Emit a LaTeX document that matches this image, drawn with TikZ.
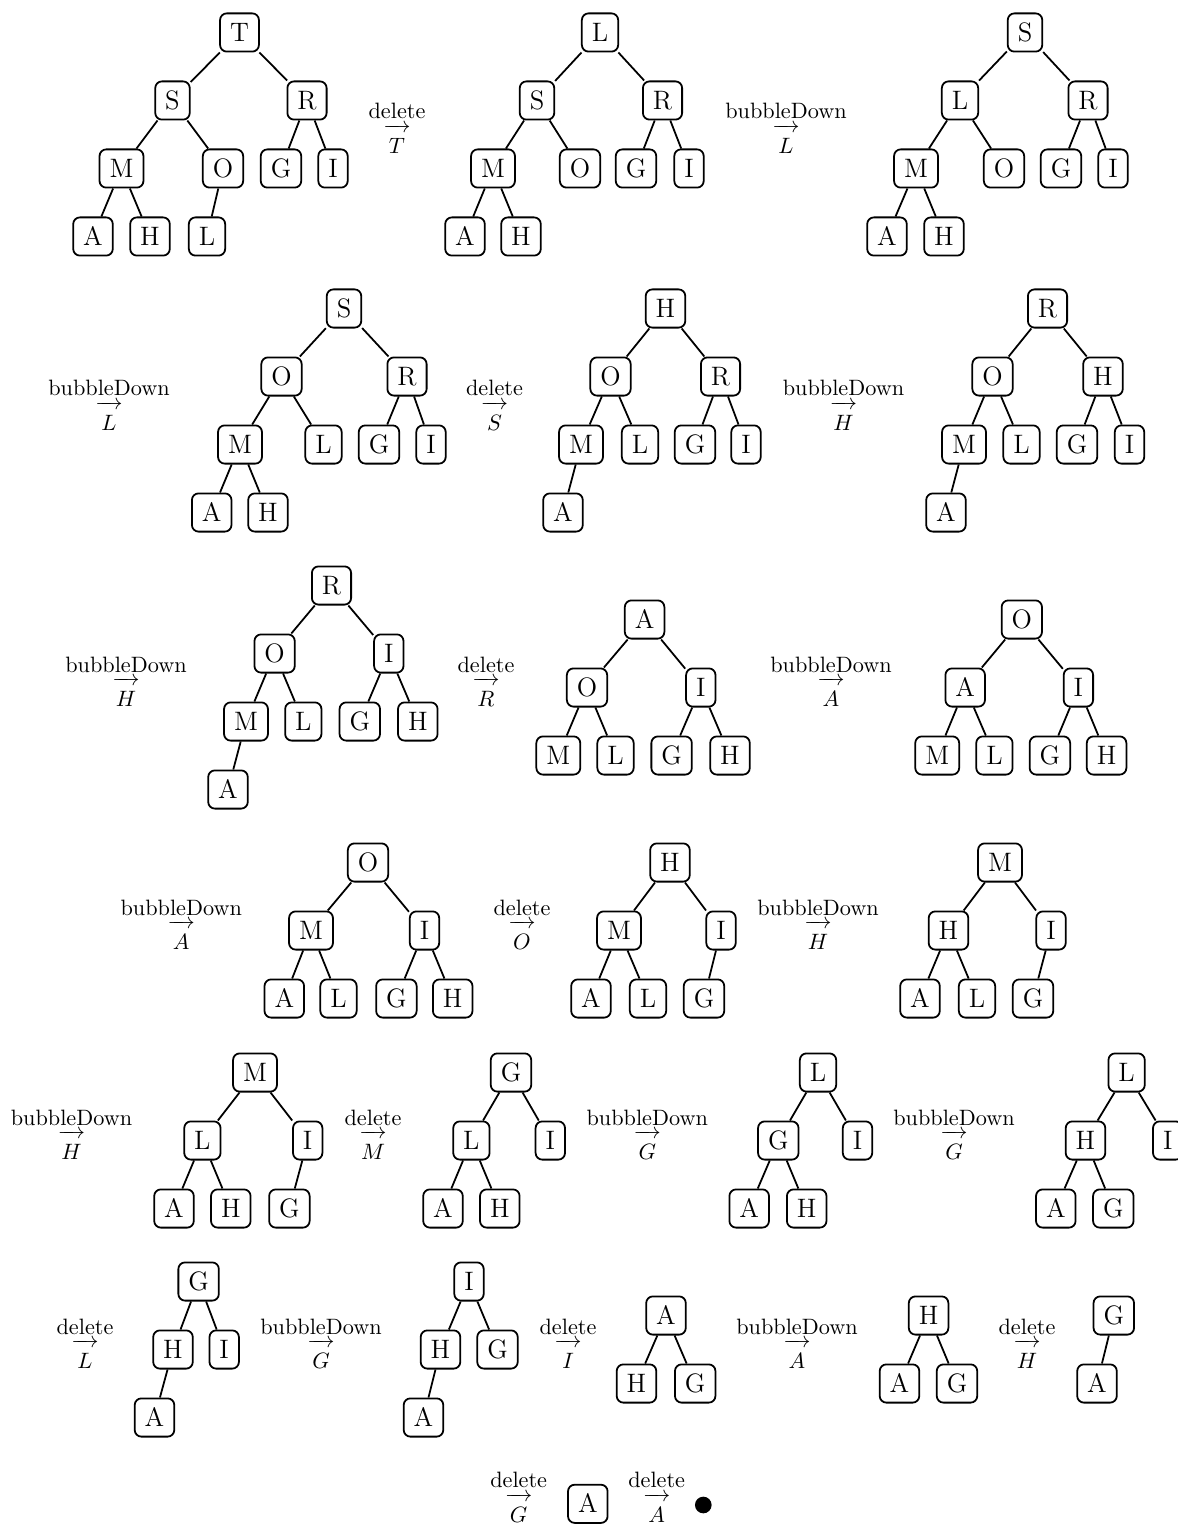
\documentclass[tikz,border=0pt]{standalone}
\newcommand{\oparrow}{$\relbar\mkern-10mu\rightarrow$}
\newcommand{\oplab}[5]{%
  \node[optext] (#1t) at (#2,#3-8) {#4};
  \node[optext] (#1a) at (#2,#3+5.56) {\oparrow};
  \node[optext] (#1l) at (#2,#3+26.5) {$#5$};}
\begin{document}
\begin{tikzpicture}[x=0.45pt,y=-0.45pt,
  nd/.style={draw, line width=0.8pt, rounded corners=3pt, inner sep=4.5pt, font=\large, text height=8.2pt, text depth=0pt},
  edge/.style={line width=0.8pt},
  optext/.style={anchor=base, inner sep=0pt}]
\useasboundingbox (0,0) rectangle (1177,1525);

% ---------------- Row 1 ----------------
\node[nd] (t1T) at (239.5,32.5) {T};
\node[nd] (t1S) at (172.5,100.5) {S};
\node[nd] (t1R) at (307,100.5) {R};
\node[nd] (t1M) at (121.5,168.5) {M};
\node[nd] (t1O) at (223,168.5) {O};
\node[nd] (t1G) at (281,168.5) {G};
\node[nd] (t1I) at (333,168.5) {I};
\node[nd] (t1A) at (93,236.5) {A};
\node[nd] (t1H) at (150,236.5) {H};
\node[nd] (t1L) at (207,236.5) {L};
\draw[edge] (t1T)--(t1S) (t1T)--(t1R) (t1S)--(t1M) (t1S)--(t1O) (t1R)--(t1G) (t1R)--(t1I) (t1M)--(t1A) (t1M)--(t1H) (t1O)--(t1L);

\oplab{o1}{397}{127}{delete}{T}

\node[nd] (t2L) at (600,32.5) {L};
\node[nd] (t2S) at (537,100.5) {S};
\node[nd] (t2R) at (662.5,100.5) {R};
\node[nd] (t2M) at (493,168.5) {M};
\node[nd] (t2O) at (580,168.5) {O};
\node[nd] (t2G) at (636,168.5) {G};
\node[nd] (t2I) at (689,168.5) {I};
\node[nd] (t2A) at (465,236.5) {A};
\node[nd] (t2H) at (521,236.5) {H};
\draw[edge] (t2L)--(t2S) (t2L)--(t2R) (t2S)--(t2M) (t2S)--(t2O) (t2R)--(t2G) (t2R)--(t2I) (t2M)--(t2A) (t2M)--(t2H);

\oplab{o2}{786}{127}{bubbleDown}{L}

\node[nd] (t3S) at (1025,32.5) {S};
\node[nd] (t3L) at (960,100.5) {L};
\node[nd] (t3R) at (1088,100.5) {R};
\node[nd] (t3M) at (916,168.5) {M};
\node[nd] (t3O) at (1004,168.5) {O};
\node[nd] (t3G) at (1061,168.5) {G};
\node[nd] (t3I) at (1113,168.5) {I};
\node[nd] (t3A) at (887,236.5) {A};
\node[nd] (t3H) at (944,236.5) {H};
\draw[edge] (t3S)--(t3L) (t3S)--(t3R) (t3L)--(t3M) (t3L)--(t3O) (t3R)--(t3G) (t3R)--(t3I) (t3M)--(t3A) (t3M)--(t3H);

% ---------------- Row 2 ----------------
\oplab{o3}{109}{403.5}{bubbleDown}{L}

\node[nd] (t4S) at (344,308.5) {S};
\node[nd] (t4O) at (281.5,376.5) {O};
\node[nd] (t4R) at (407,376.5) {R};
\node[nd] (t4M) at (240,444.5) {M};
\node[nd] (t4L) at (323.5,444.5) {L};
\node[nd] (t4G) at (379,444.5) {G};
\node[nd] (t4I) at (431,444.5) {I};
\node[nd] (t4A) at (211.7,512.5) {A};
\node[nd] (t4H) at (268,512.5) {H};
\draw[edge] (t4S)--(t4O) (t4S)--(t4R) (t4O)--(t4M) (t4O)--(t4L) (t4R)--(t4G) (t4R)--(t4I) (t4M)--(t4A) (t4M)--(t4H);

\oplab{o4}{494.5}{403.5}{delete}{S}

\node[nd] (t5H) at (665.5,308.5) {H};
\node[nd] (t5O) at (610.5,376.5) {O};
\node[nd] (t5R) at (720.5,376.5) {R};
\node[nd] (t5M) at (581,444.5) {M};
\node[nd] (t5L) at (640,444.5) {L};
\node[nd] (t5G) at (695,444.5) {G};
\node[nd] (t5I) at (746,444.5) {I};
\node[nd] (t5A) at (563,512.5) {A};
\draw[edge] (t5H)--(t5O) (t5H)--(t5R) (t5O)--(t5M) (t5O)--(t5L) (t5R)--(t5G) (t5R)--(t5I) (t5M)--(t5A);

\oplab{o5}{843.5}{403.5}{bubbleDown}{H}

\node[nd] (t6R) at (1047.5,308.5) {R};
\node[nd] (t6O) at (992.5,376.5) {O};
\node[nd] (t6H) at (1103,376.5) {H};
\node[nd] (t6M) at (964,444.5) {M};
\node[nd] (t6L) at (1021.5,444.5) {L};
\node[nd] (t6G) at (1077,444.5) {G};
\node[nd] (t6I) at (1129.5,444.5) {I};
\node[nd] (t6A) at (946,512.5) {A};
\draw[edge] (t6R)--(t6O) (t6R)--(t6H) (t6O)--(t6M) (t6O)--(t6L) (t6H)--(t6G) (t6H)--(t6I) (t6M)--(t6A);

% ---------------- Row 3 ----------------
\oplab{o6}{126}{680}{bubbleDown}{H}

\node[nd] (t7R) at (331.5,585.5) {R};
\node[nd] (t7O) at (274.6,653.5) {O};
\node[nd] (t7I) at (388.8,653.5) {I};
\node[nd] (t7M) at (246,721.5) {M};
\node[nd] (t7L) at (303.3,721.5) {L};
\node[nd] (t7G) at (359.8,721.5) {G};
\node[nd] (t7H) at (417.8,721.5) {H};
\node[nd] (t7A) at (228,789.5) {A};
\draw[edge] (t7R)--(t7O) (t7R)--(t7I) (t7O)--(t7M) (t7O)--(t7L) (t7I)--(t7G) (t7I)--(t7H) (t7M)--(t7A);

\oplab{o7}{486}{680}{delete}{R}

\node[nd] (t8A) at (644.6,619.5) {A};
\node[nd] (t8O) at (587,687.5) {O};
\node[nd] (t8I) at (700.8,687.5) {I};
\node[nd] (t8M) at (558.3,755.5) {M};
\node[nd] (t8L) at (615.5,755.5) {L};
\node[nd] (t8G) at (671.6,755.5) {G};
\node[nd] (t8H) at (730,755.5) {H};
\draw[edge] (t8A)--(t8O) (t8A)--(t8I) (t8O)--(t8M) (t8O)--(t8L) (t8I)--(t8G) (t8I)--(t8H);

\oplab{o8}{831}{680}{bubbleDown}{A}

\node[nd] (t9O) at (1021.8,619.5) {O};
\node[nd] (t9A) at (965.2,687.5) {A};
\node[nd] (t9I) at (1078.4,687.5) {I};
\node[nd] (t9M) at (937.2,755.5) {M};
\node[nd] (t9L) at (994.4,755.5) {L};
\node[nd] (t9G) at (1049.9,755.5) {G};
\node[nd] (t9H) at (1106.6,755.5) {H};
\draw[edge] (t9O)--(t9A) (t9O)--(t9I) (t9A)--(t9M) (t9A)--(t9L) (t9I)--(t9G) (t9I)--(t9H);

% ---------------- Row 4 ----------------
\oplab{o9}{181.3}{923}{bubbleDown}{A}

\node[nd] (t10O) at (368,862.5) {O};
\node[nd] (t10M) at (311,930.5) {M};
\node[nd] (t10I) at (424.5,930.5) {I};
\node[nd] (t10A) at (284.3,998.5) {A};
\node[nd] (t10L) at (338.5,998.5) {L};
\node[nd] (t10G) at (396.4,998.5) {G};
\node[nd] (t10H) at (452.7,998.5) {H};
\draw[edge] (t10O)--(t10M) (t10O)--(t10I) (t10M)--(t10A) (t10M)--(t10L) (t10I)--(t10G) (t10I)--(t10H);

\oplab{o10}{522}{923}{delete}{O}

\node[nd] (t11H) at (670,862.5) {H};
\node[nd] (t11M) at (619,930.5) {M};
\node[nd] (t11I) at (721,930.5) {I};
\node[nd] (t11A) at (591,998.5) {A};
\node[nd] (t11L) at (648,998.5) {L};
\node[nd] (t11G) at (704,998.5) {G};
\draw[edge] (t11H)--(t11M) (t11H)--(t11I) (t11M)--(t11A) (t11M)--(t11L) (t11I)--(t11G);

\oplab{o11}{818}{923}{bubbleDown}{H}

\node[nd] (t12M) at (1000,862.5) {M};
\node[nd] (t12H) at (948.5,930.5) {H};
\node[nd] (t12I) at (1051,930.5) {I};
\node[nd] (t12A) at (920,998.5) {A};
\node[nd] (t12L) at (977,998.5) {L};
\node[nd] (t12G) at (1033,998.5) {G};
\draw[edge] (t12M)--(t12H) (t12M)--(t12I) (t12H)--(t12A) (t12H)--(t12L) (t12I)--(t12G);

% ---------------- Row 5 ----------------
\oplab{o12}{71.5}{1133}{bubbleDown}{H}

\node[nd] (t13M) at (255,1072.5) {M};
\node[nd] (t13L) at (202.4,1140.5) {L};
\node[nd] (t13I) at (307.7,1140.5) {I};
\node[nd] (t13A) at (174,1208.5) {A};
\node[nd] (t13H) at (230.8,1208.5) {H};
\node[nd] (t13G) at (289.4,1208.5) {G};
\draw[edge] (t13M)--(t13L) (t13M)--(t13I) (t13L)--(t13A) (t13L)--(t13H) (t13I)--(t13G);

\oplab{o13}{373}{1133}{delete}{M}

\node[nd] (t14G) at (511,1072.5) {G};
\node[nd] (t14L) at (471.4,1140.5) {L};
\node[nd] (t14I) at (550.3,1140.5) {I};
\node[nd] (t14A) at (443,1208.5) {A};
\node[nd] (t14H) at (499.8,1208.5) {H};
\draw[edge] (t14G)--(t14L) (t14G)--(t14I) (t14L)--(t14A) (t14L)--(t14H);

\oplab{o14}{647.3}{1133}{bubbleDown}{G}

\node[nd] (t15L) at (818,1072.5) {L};
\node[nd] (t15G) at (778.3,1140.5) {G};
\node[nd] (t15I) at (857.5,1140.5) {I};
\node[nd] (t15A) at (749.2,1208.5) {A};
\node[nd] (t15H) at (806.7,1208.5) {H};
\draw[edge] (t15L)--(t15G) (t15L)--(t15I) (t15G)--(t15A) (t15G)--(t15H);

\oplab{o15}{954}{1133}{bubbleDown}{G}

\node[nd] (t16L) at (1126.6,1072.5) {L};
\node[nd] (t16H) at (1085.5,1140.5) {H};
\node[nd] (t16I) at (1167.7,1140.5) {I};
\node[nd] (t16A) at (1055.8,1208.5) {A};
\node[nd] (t16G) at (1113.3,1208.5) {G};
\draw[edge] (t16L)--(t16H) (t16L)--(t16I) (t16H)--(t16A) (t16H)--(t16G);

% ---------------- Row 6 ----------------
\oplab{o16}{85}{1342}{delete}{L}

\node[nd] (t17G) at (198.6,1281.5) {G};
\node[nd] (t17H) at (173,1349.5) {H};
\node[nd] (t17I) at (224.2,1349.5) {I};
\node[nd] (t17A) at (154.5,1417.5) {A};
\draw[edge] (t17G)--(t17H) (t17G)--(t17I) (t17H)--(t17A);

\oplab{o17}{321}{1342}{bubbleDown}{G}

\node[nd] (t18I) at (469,1281.5) {I};
\node[nd] (t18H) at (440.5,1349.5) {H};
\node[nd] (t18G) at (497.5,1349.5) {G};
\node[nd] (t18A) at (423.5,1417.5) {A};
\draw[edge] (t18I)--(t18H) (t18I)--(t18G) (t18H)--(t18A);

\oplab{o18}{568}{1342}{delete}{I}

\node[nd] (t19A) at (666,1315.5) {A};
\node[nd] (t19H) at (636.5,1383.5) {H};
\node[nd] (t19G) at (695.2,1383.5) {G};
\draw[edge] (t19A)--(t19H) (t19A)--(t19G);

\oplab{o19}{797}{1342}{bubbleDown}{A}

\node[nd] (t20H) at (928.6,1315.5) {H};
\node[nd] (t20A) at (899.5,1383.5) {A};
\node[nd] (t20G) at (957,1383.5) {G};
\draw[edge] (t20H)--(t20A) (t20H)--(t20G);

\oplab{o20}{1027}{1342}{delete}{H}

\node[nd] (t21G) at (1113.8,1315.5) {G};
\node[nd] (t21A) at (1097,1383.5) {A};
\draw[edge] (t21G)--(t21A);

% ---------------- Row 7 ----------------
\oplab{o21}{518.7}{1495.5}{delete}{G}
\node[nd] (t22A) at (587.8,1503.8) {A};
\oplab{o22}{656.7}{1495.5}{delete}{A}
\node[circle, fill, inner sep=0pt, minimum size=7.5pt] (dot) at (703.3,1505) {};
\end{tikzpicture}
\end{document}
